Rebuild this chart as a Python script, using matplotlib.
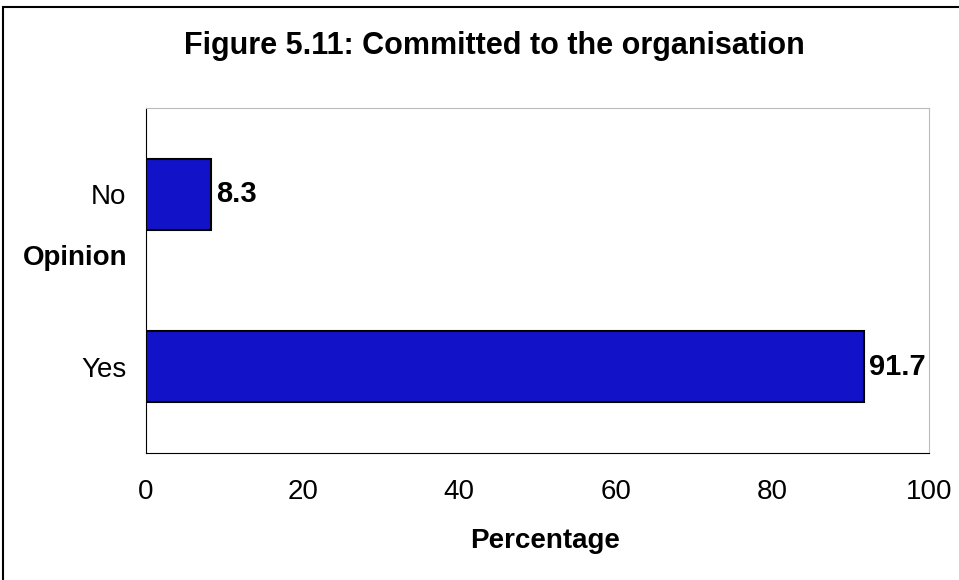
import matplotlib
matplotlib.use("Agg")
import matplotlib.pyplot as plt
from matplotlib.patches import Rectangle

categories = ["Yes", "No"]
values = [91.7, 8.3]
xticks = [0, 20, 40, 60, 80, 100]

plt.rcParams['font.family'] = ['Liberation Sans', 'DejaVu Sans']

W, H = 959, 580
fig = plt.figure(figsize=(W/100, H/100), dpi=100)
ax = fig.add_axes([146/W, 1-453/H, (929-146)/W, (453-108)/H])

ax.barh(categories, values, height=0.41, color="#1212c8", edgecolor="black", linewidth=1.5)
for i, v in enumerate(values):
    ax.text(v + 0.6, i, f"{v}", va="center", ha="left", fontsize=21, fontweight="bold")

ax.set_xlim(0, 100)
ax.set_ylim(-0.5, 1.5)
ax.set_xticks(xticks)
ax.tick_params(axis="both", length=0, labelsize=20)
ax.tick_params(axis="y", pad=14)
ax.tick_params(axis="x", pad=19)
ax.spines["left"].set_color("black")
ax.spines["bottom"].set_color("black")
ax.spines["top"].set_color("#bbbbbb")
ax.spines["right"].set_color("#bbbbbb")
ax.spines["top"].set_linewidth(0.8)
ax.spines["right"].set_linewidth(0.8)

fig.text(75/W, 1-258/H, "Opinion", ha="center", va="center", fontsize=20, fontweight="bold")
fig.text(545/W, 1-541/H, "Percentage", ha="center", va="center", fontsize=20, fontweight="bold")
fig.text(494/W, 1-46/H, "Figure 5.11: Committed to the organisation", ha="center", va="center",
         fontsize=22, fontweight="bold")

fig.patches.append(Rectangle((3/W, -0.05), 1.2, 1-7/H+0.05, transform=fig.transFigure,
                             fill=False, edgecolor="black", linewidth=1.5))

fig.savefig("out.png", dpi=100)
